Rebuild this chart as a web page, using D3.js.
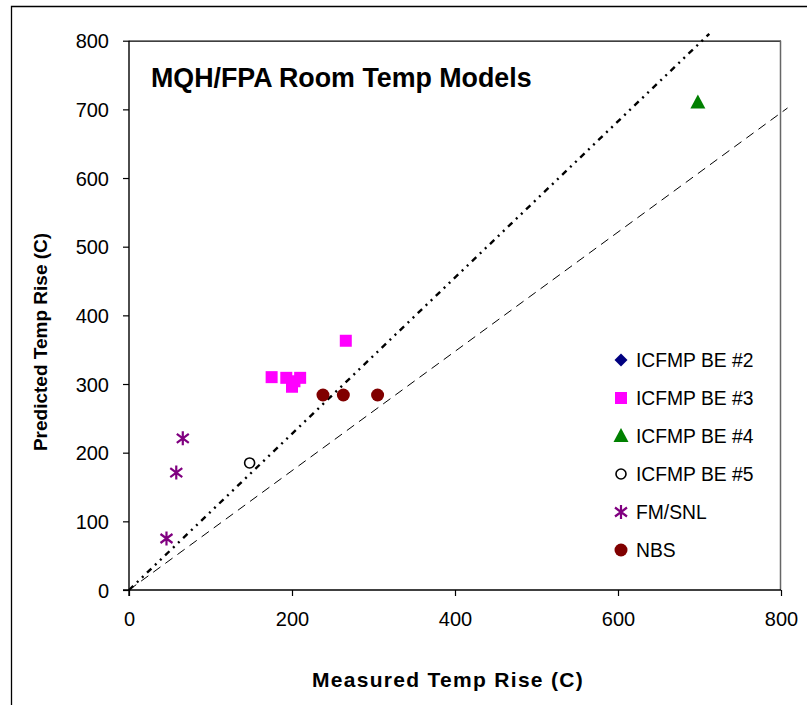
<!DOCTYPE html>
<html>
<head>
<meta charset="utf-8">
<script src="https://cdn.jsdelivr.net/npm/d3@7"></script>
<style>
  html, body { margin: 0; padding: 0; background: #fff; }
  svg { display: block; font-family: "Liberation Sans", Arial, sans-serif; }
</style>
</head>
<body>
<svg id="chart" width="807" height="705"></svg>
<script>
// Measured vs predicted temperature rise, per benchmark series
const be2 = [];
const be3 = [[175, 310], [193, 309], [210, 309], [203, 304], [200, 296], [266, 363]];
const be4 = [[698, 710]];
const be5 = [[148, 185]];
const fmsnl = [[66, 221], [58, 171], [46, 75]];
const nbs = [[238, 284], [263, 284], [305, 284]];

// Reference bound lines
const upperBound = [[0, 0], [712, 810]];
const lowerBound = [[0, 0], [808, 702]];

const xTicks = [0, 200, 400, 600, 800];
const yTicks = [0, 100, 200, 300, 400, 500, 600, 700, 800];

const seriesNames = ["ICFMP BE #2", "ICFMP BE #3", "ICFMP BE #4", "ICFMP BE #5", "FM/SNL", "NBS"];

const svg = d3.select("#chart");
const W = 807, H = 705;
const plotL = 129, plotR = 781, plotT = 40.7, plotB = 590;

const x = d3.scaleLinear().domain([0, 800]).range([plotL, plotR]);
const y = d3.scaleLinear().domain([0, 800]).range([plotB, plotT]);

svg.append("rect").attr("width", W).attr("height", H).attr("fill", "#fff");

// outer chart frame (left and top edges)
svg.append("path")
  .attr("d", `M11.5,${H} V6.5 H${W}`)
  .attr("fill", "none").attr("stroke", "#000").attr("stroke-width", 1.3);

// plot area border
svg.append("line").attr("x1", plotL).attr("x2", plotR).attr("y1", plotT + 0.5).attr("y2", plotT + 0.5)
  .attr("stroke", "#000").attr("stroke-width", 1.2);
svg.append("line").attr("x1", plotR - 0.5).attr("x2", plotR - 0.5).attr("y1", plotT).attr("y2", plotB)
  .attr("stroke", "#666").attr("stroke-width", 1.5);

// axes
const xAxis = svg.append("g")
  .attr("transform", `translate(0,${plotB})`)
  .call(d3.axisBottom(x).tickValues(xTicks).tickSize(6).tickPadding(16).tickFormat(d3.format("d")));
const yAxis = svg.append("g")
  .attr("transform", `translate(${plotL},0)`)
  .call(d3.axisLeft(y).tickValues(yTicks).tickSize(6).tickPadding(14).tickFormat(d3.format("d")));

[xAxis, yAxis].forEach(g => {
  g.select(".domain").attr("stroke", "#000").attr("stroke-width", 1.4);
  g.selectAll(".tick line").attr("stroke", "#000").attr("stroke-width", 1.2);
  g.selectAll(".tick text").attr("fill", "#000")
    .style("font-family", '"Liberation Sans", Arial, sans-serif').style("font-size", "20px");
});
yAxis.selectAll(".tick text").attr("dy", "0.35em");
yAxis.select(".domain").attr("d", `M0,${plotB + 6}V${plotT}`);
xAxis.select(".domain").attr("d", `M${plotL - 6},0H${plotR}`);

// bound lines, running slightly beyond the plot
const line = d3.line().x(d => x(d[0])).y(d => y(d[1]));
svg.append("path").datum(lowerBound).attr("d", line)
  .attr("fill", "none").attr("stroke", "#000").attr("stroke-width", 1)
  .attr("stroke-dasharray", "9,6");
svg.append("path").datum(upperBound).attr("d", line)
  .attr("fill", "none").attr("stroke", "#000").attr("stroke-width", 2.4)
  .attr("stroke-dasharray", "6,5,2,5,2,5");

// marker shapes
const square = "M-6,-6H6V6H-6Z";
const triangle = "M0,-8L7.5,6H-7.5Z";
const star = "M0,-7V7M-6,-4.5L6,4.5M-6,4.5L6,-4.5";

function drawMarker(g, kind) {
  if (kind === 0) g.append("path").attr("d", "M0,-6.5L6.5,0L0,6.5L-6.5,0Z").attr("fill", "#000080");
  else if (kind === 1) g.append("path").attr("d", square).attr("fill", "#ff00ff");
  else if (kind === 2) g.append("path").attr("d", triangle).attr("fill", "#008000");
  else if (kind === 3) g.append("circle").attr("r", 5).attr("fill", "#fff").attr("stroke", "#000").attr("stroke-width", 1.6);
  else if (kind === 4) g.append("path").attr("d", star).attr("fill", "none").attr("stroke", "#800080").attr("stroke-width", 2.2);
  else g.append("circle").attr("r", 6.5).attr("fill", "#800000");
}

const allSeries = [be2, be3, be4, be5, fmsnl, nbs];
allSeries.forEach((data, i) => {
  svg.append("g").selectAll("g").data(data).join("g")
    .attr("transform", d => `translate(${x(d[0])},${y(d[1])})`)
    .each(function() { drawMarker(d3.select(this), i); });
});

// chart title
svg.append("text").attr("x", 151).attr("y", 87)
  .attr("font-size", "26.8px").attr("font-weight", "bold").attr("fill", "#000")
  .text("MQH/FPA Room Temp Models");

// axis titles
svg.append("text").attr("x", 448).attr("y", 687).attr("text-anchor", "middle")
  .attr("font-size", "21px").attr("font-weight", "bold").attr("letter-spacing", "1.3px")
  .text("Measured Temp Rise (C)");
svg.append("text").attr("transform", "translate(47,342) rotate(-90)").attr("text-anchor", "middle")
  .attr("font-size", "19px").attr("font-weight", "bold")
  .text("Predicted Temp Rise (C)");

// legend
const legend = svg.append("g");
seriesNames.forEach((name, i) => {
  const ly = 360 + i * 38;
  const g = legend.append("g").attr("transform", `translate(621,${ly})`);
  drawMarker(g, i);
  legend.append("text").attr("x", 636).attr("y", ly).attr("dy", "0.36em")
    .attr("font-size", "19.3px").attr("fill", "#000").text(name);
});
</script>
</body>
</html>
